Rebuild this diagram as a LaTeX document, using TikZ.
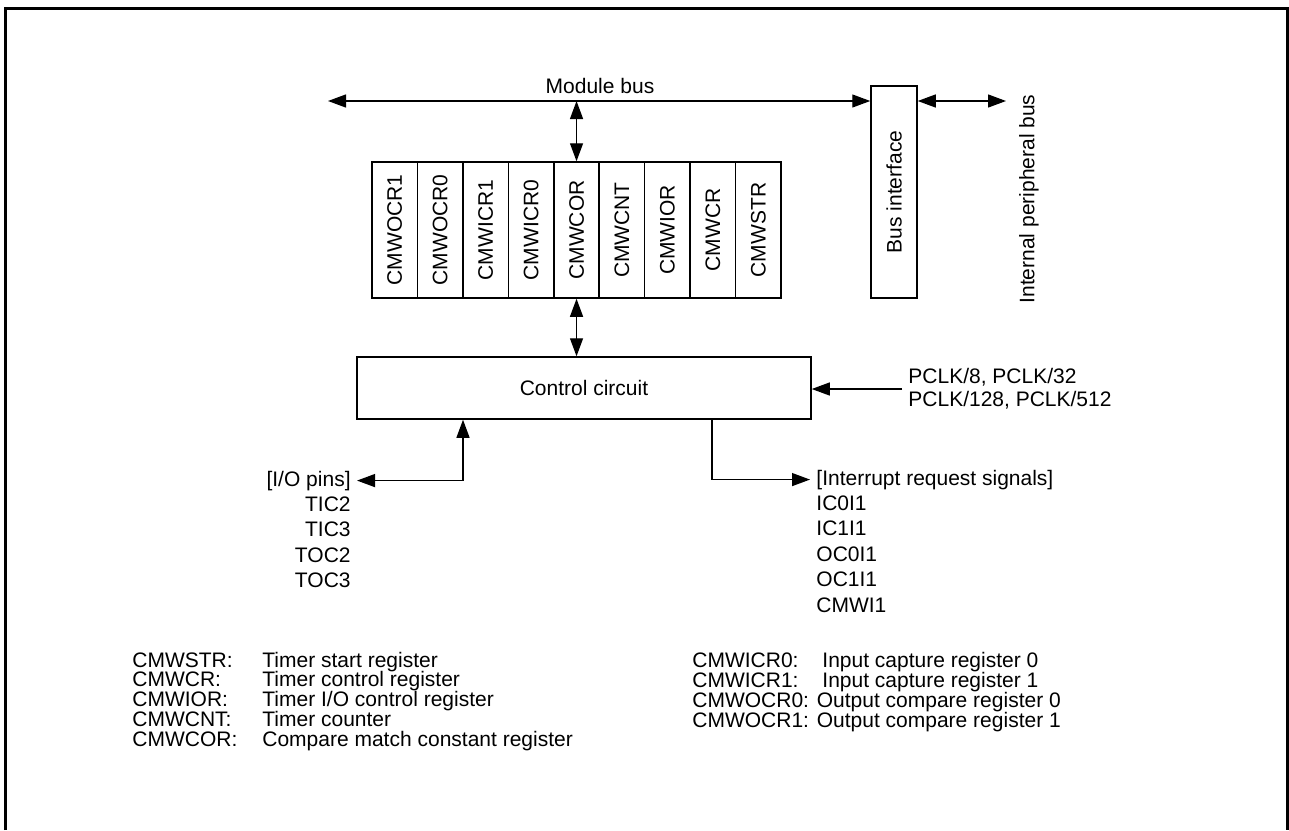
\documentclass[tikz,border=0pt]{standalone}
\usepackage{fontspec}
\setmainfont{Liberation Sans}
\usetikzlibrary{positioning,arrows.meta,calc}

\begin{document}
\begin{tikzpicture}[x=0.5pt, y=-0.5pt,
    regBox/.style={rectangle, draw, line width=0.75pt, minimum width=22.7pt, minimum height=68pt, inner sep=0pt, font=\fontsize{10.5}{12}\selectfont},
    blockBox/.style={rectangle, draw, line width=0.75pt, inner sep=0pt, font=\fontsize{10.5}{12}\selectfont},
    sigLabel/.style={inner sep=3pt, font=\fontsize{10.5}{12}\selectfont},
    legendText/.style={inner sep=0pt, anchor=base west, font=\fontsize{10.5}{10}\selectfont},
    arrowStyle/.style={-{Triangle[length=9pt,width=6.5pt]}, line width=0.65pt},
    dblArrow/.style={{Triangle[length=9pt,width=6.5pt]}-{Triangle[length=9pt,width=6.5pt]}, line width=0.65pt}
]
    \useasboundingbox (0,0) rectangle (1289,830);
    % outer frame, open at the bottom
    \draw[line width=1.5pt] (5,830) -- (5,8) -- (1287,8) -- (1287,830);

    % registers
    \foreach \reg [count=\i] in {CMWOCR1,CMWOCR0,CMWICR1,CMWICR0,CMWCOR,CMWCNT,CMWIOR,CMWCR,CMWSTR}
        \node[regBox] (reg\i) at ({372+45.45*(\i-0.5)}, 230) {\rotatebox{90}{\reg}};

    \node[blockBox, minimum width=23pt, minimum height=106pt] (busif) at (894,192) {\rotatebox{90}{Bus interface}};
    \node[blockBox, minimum width=227pt, minimum height=31pt] (ctrl) at (584,388) {Control circuit};

    % module bus
    \coordinate (busL) at (328,101);
    \draw[dblArrow] (busL) -- (busL -| busif.west);
    \node[sigLabel, anchor=base] (mbus) at (600,93) {Module bus};
    \draw[dblArrow] (reg5 |- busL) -- (reg5.north);
    \draw[dblArrow] (reg5.south) -- (reg5.south |- ctrl.north);

    % internal peripheral bus
    \coordinate (ipbR) at (1006,101);
    \draw[dblArrow] (busL -| busif.east) -- (ipbR);
    \node[sigLabel, rotate=90] (ipb) at (1029,199) {Internal peripheral bus};

    % clock inputs
    \node[sigLabel, anchor=west, align=left, font=\fontsize{10.5}{11.3}\selectfont] (clk) at (902,389) {PCLK/8, PCLK/32\\PCLK/128, PCLK/512};
    \draw[arrowStyle] (clk.west) -- (clk.west -| ctrl.east);

    % I/O pins
    \node[sigLabel, anchor=base east] (iohead) at (357,486) {[I/O pins]};
    \coordinate (ioTap) at (463,0);
    \draw[dblArrow] (iohead.east) -| (ioTap |- ctrl.south);
    \foreach \pin [count=\k] in {TIC2,TIC3,TOC2,TOC3}
        \node[sigLabel, anchor=base east] (pin\k) at (357,{486+25.4*\k}) {\pin};

    % interrupt requests
    \node[sigLabel, anchor=base west] (irqhead) at (810,485) {[Interrupt request signals]};
    \coordinate (irqTap) at (712,0);
    \draw[arrowStyle] (irqTap |- ctrl.south) |- (irqhead.west);
    \foreach \irq [count=\k] in {IC0I1,IC1I1,OC0I1,OC1I1,CMWI1}
        \node[sigLabel, anchor=base west] (irq\k) at (810,{485+25.4*\k}) {\irq};

    % legend
    \foreach \reg/\desc [count=\k from 0] in {CMWSTR/Timer start register, CMWCR/Timer control register, CMWIOR/{Timer I/O control register}, CMWCNT/Timer counter, CMWCOR/Compare match constant register} {
        \node[legendText] (keyL\k) at (132,{667+19.9*\k}) {\reg:};
        \node[legendText] (descL\k) at (262,{667+19.9*\k}) {\desc};
    }
    \node[legendText] (keyR0) at (692,667) {CMWICR0:};
    \node[legendText] (descR0) at (822,667) {Input capture register 0};
    \node[legendText] (keyR1) at (692,687) {CMWICR1:};
    \node[legendText] (descR1) at (822,687) {Input capture register 1};
    \node[legendText] (keyR2) at (692,707) {CMWOCR0: Output compare register 0};
    \node[legendText] (keyR3) at (692,727) {CMWOCR1: Output compare register 1};
\end{tikzpicture}
\end{document}
